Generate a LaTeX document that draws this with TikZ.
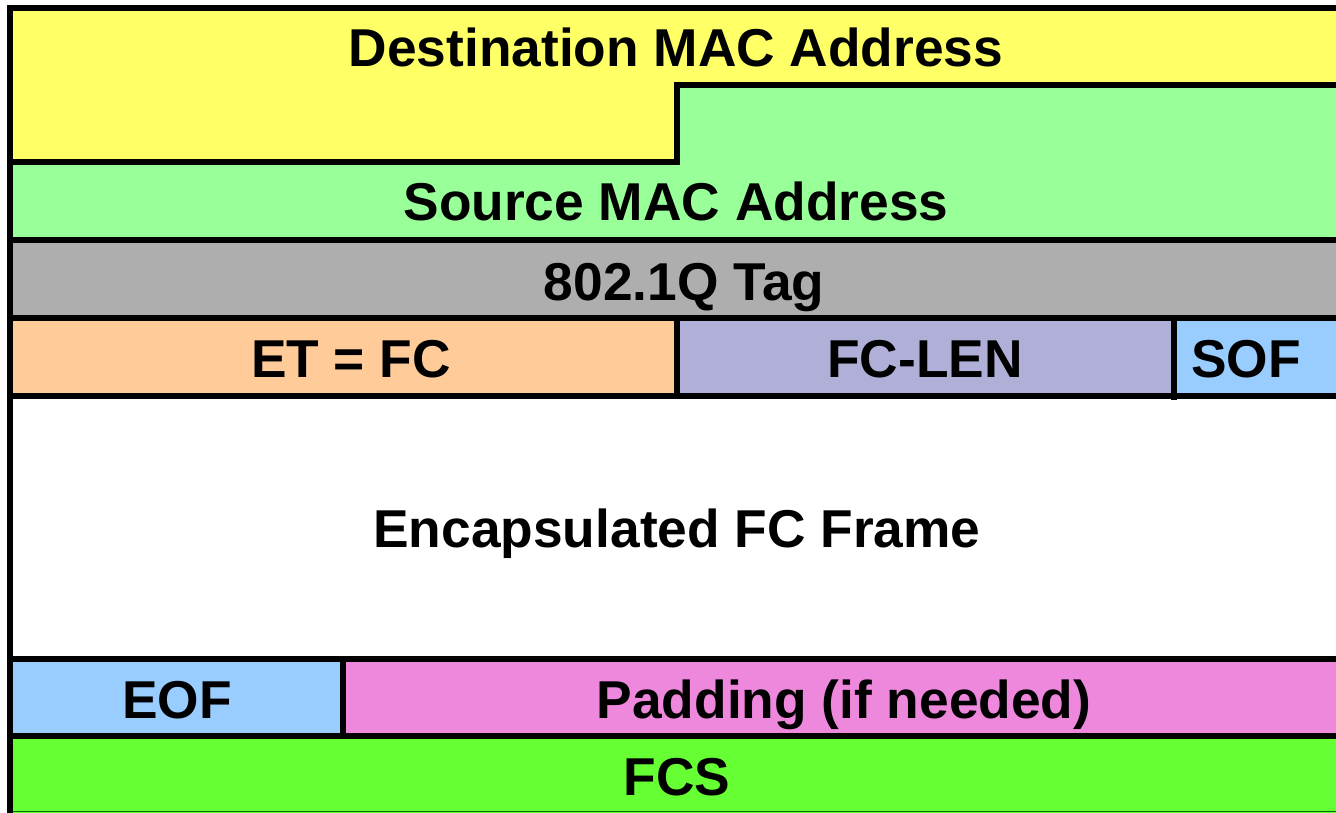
\documentclass[tikz,border=0pt]{standalone}
\usepackage{fontspec}
\setmainfont{Liberation Sans}
\definecolor{cyel}{HTML}{FFFF66}
\definecolor{cgreen}{HTML}{99FF99}
\definecolor{cgray}{HTML}{AEAEAE}
\definecolor{corange}{HTML}{FFCC99}
\definecolor{clav}{HTML}{AFAFD7}
\definecolor{cblue}{HTML}{99CCFF}
\definecolor{cpink}{HTML}{EE88DD}
\definecolor{cfcs}{HTML}{66FF33}
\begin{document}
\begin{tikzpicture}[x=1pt,y=-1pt,
  border/.style={draw=black,line width=6pt,line cap=rect},
  lbl/.style={font=\fontsize{53.3}{60}\selectfont\bfseries,anchor=base,inner sep=0pt}]
\useasboundingbox (0,0) rectangle (1336,812);
% fills
\fill[cyel] (9.5,7.5) -- (1345,7.5) -- (1345,85) -- (677,85) -- (677,162) -- (9.5,162) -- cycle;
\fill[cgreen] (677,85) -- (1345,85) -- (1345,240) -- (9.5,240) -- (9.5,162) -- (677,162) -- cycle;
\fill[cgray] (9.5,240) rectangle (1345,318);
\fill[corange] (9.5,318) rectangle (677,396);
\fill[clav] (677,318) rectangle (1173.5,396);
\fill[cblue] (1173.5,318) rectangle (1345,396);
\fill[cblue] (9.5,659) rectangle (343,736);
\fill[cpink] (343,659) rectangle (1345,736);
\fill[cfcs] (9.5,736) rectangle (1345,816);
\draw[green!45!black,line width=1pt] (9.5,811.5) -- (1345,811.5);
% borders
\draw[border] (1345,7.5) -- (9.5,7.5) -- (9.5,816);
\draw[border] (9.5,162) -- (677,162) -- (677,85) -- (1345,85);
\draw[border] (9.5,240) -- (1345,240);
\draw[border] (9.5,318) -- (1345,318);
\draw[border] (9.5,396) -- (1345,396);
\draw[border] (9.5,659) -- (1345,659);
\draw[border] (9.5,736) -- (1345,736);
\draw[border] (677,318) -- (677,396);
\draw[border] (1173.5,318) -- (1173.5,397);
\draw[border] (343,659) -- (343,736);
% labels
\node[lbl] (dst) at (676,66) {Destination MAC Address};
\node[lbl] (src) at (676,220) {Source MAC Address};
\node[lbl] (tag) at (684,300) {802.1Q Tag};
\node[lbl] (et) at (351,377) {ET = FC};
\node[lbl] (len) at (925,377) {FC-LEN};
\node[lbl] (sof) at (1246,377) {SOF};
\node[lbl] (enc) at (677,547) {Encapsulated FC Frame};
\node[lbl] (eof) at (177,718) {EOF};
\node[lbl] (pad) at (844,718) {Padding (if needed)};
\node[lbl] (fcs) at (677,795) {FCS};
\end{tikzpicture}
\end{document}
